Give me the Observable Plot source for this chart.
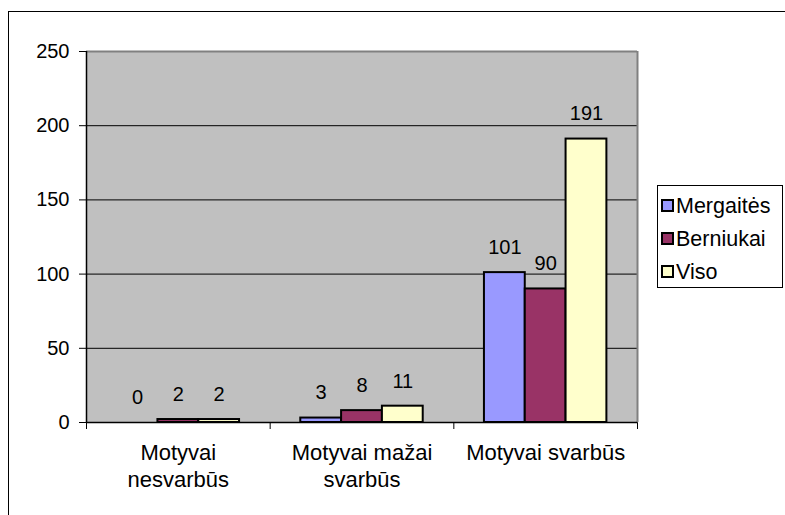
<!DOCTYPE html>
<html>
<head>
<meta charset="utf-8">
<script src="https://cdn.jsdelivr.net/npm/d3@7"></script>
<script src="https://cdn.jsdelivr.net/npm/@observablehq/plot@0.6"></script>
<style>
  html, body { margin: 0; padding: 0; background: #fff; overflow: hidden; width: 785px; height: 515px; }
  #wrap { position: relative; width: 785px; height: 515px; }
  #outer { position: absolute; left: 8px; top: 11px; width: 900px; height: 700px; border: 1px solid #000; box-sizing: border-box; pointer-events: none; }
  #chart { position: absolute; left: 0; top: 0; }
  #legend { position: absolute; left: 657px; top: 185px; width: 126px; height: 103px; border: 1px solid #000; box-sizing: border-box; background: #fff;
            font-family: "Liberation Sans", Arial, sans-serif; font-size: 21.5px; color: #000; }
  .item { position: absolute; left: 3px; height: 24px; line-height: 24px; white-space: nowrap; }
  .sw { display: inline-block; width: 9px; height: 9px; border: 2px solid #000; vertical-align: middle; margin-right: 2px; position: relative; top: -2px; }
</style>
</head>
<body>
<div id="wrap">
  <div id="chart"></div>
  <div id="outer"></div>
  <div id="legend"></div>
</div>
<script>
const categories = ["Motyvai nesvarbūs", "Motyvai mažai svarbūs", "Motyvai svarbūs"];
const categoryLabels = ["Motyvai\nnesvarbūs", "Motyvai mažai\nsvarbūs", "Motyvai svarbūs"];
const series = ["Mergaitės", "Berniukai", "Viso"];
const mergaites = [0, 3, 101];
const berniukai = [2, 8, 90];
const viso = [2, 11, 191];
const yTicks = [0, 50, 100, 150, 200, 250];
const colors = ["#9999FF", "#993366", "#FFFFCC"];
const gapWidth = 1.5; // Excel gap width 150%

const seriesValues = [mergaites, berniukai, viso];
const data = [];
categories.forEach((c, ci) => {
  series.forEach((s, si) => {
    data.push({category: c, ci, series: s, si, value: seriesValues[si][ci]});
  });
});
const n = series.length;
const x1 = d => d.ci + (gapWidth / 2 + d.si) / (n + gapWidth);
const x2 = d => d.ci + (gapWidth / 2 + d.si + 1) / (n + gapWidth);
const xc = d => (x1(d) + x2(d)) / 2;

const font = '"Liberation Sans", Arial, sans-serif';

const chart = Plot.plot({
  width: 785,
  height: 515,
  marginLeft: 86,
  marginRight: 148,
  marginTop: 51,
  marginBottom: 93,
  style: {fontFamily: font, fontSize: "20px", background: "transparent", color: "#000"},
  x: {domain: [0, categories.length], ticks: d3.range(categories.length + 1), tickFormat: () => "", tickSize: 7, label: null},
  y: {domain: [0, 250], ticks: yTicks, tickSize: 7, tickPadding: 10, label: null},
  color: {domain: series, range: colors},
  marks: [
    Plot.frame({fill: "#C0C0C0", stroke: null}),
    Plot.ruleY(yTicks.filter(v => v > 0 && v < 250), {stroke: "#000", strokeWidth: 1}),
    Plot.ruleY([250], {stroke: "#808080", strokeWidth: 2}),
    Plot.ruleX([categories.length], {stroke: "#808080", strokeWidth: 2}),
    Plot.rect(data, {x1, x2, y1: 0, y2: "value", fill: "series", stroke: "#000", strokeWidth: 2}),
    Plot.ruleX([0], {stroke: "#000", strokeWidth: 1.5}),
    Plot.ruleY([0], {stroke: "#000", strokeWidth: 1.5}),
    Plot.text(data, {x: xc, y: "value", text: d => String(d.value), dy: -25, fontSize: 20, fill: "#000", fontFamily: font}),
    Plot.text(categoryLabels, {x: (d, i) => i + 0.5, y: () => 0, text: d => d, lineAnchor: "top", dy: 18, lineHeight: 1.23, fontSize: 22, fill: "#000", fontFamily: font})
  ]
});
document.getElementById("chart").appendChild(chart);

const legend = document.getElementById("legend");
series.forEach((s, i) => {
  const it = document.createElement("div");
  it.className = "item";
  it.style.top = (8 + i * 33) + "px";
  const sw = document.createElement("span");
  sw.className = "sw";
  sw.style.background = colors[i];
  it.appendChild(sw);
  it.appendChild(document.createTextNode(s));
  legend.appendChild(it);
});
</script>
</body>
</html>
